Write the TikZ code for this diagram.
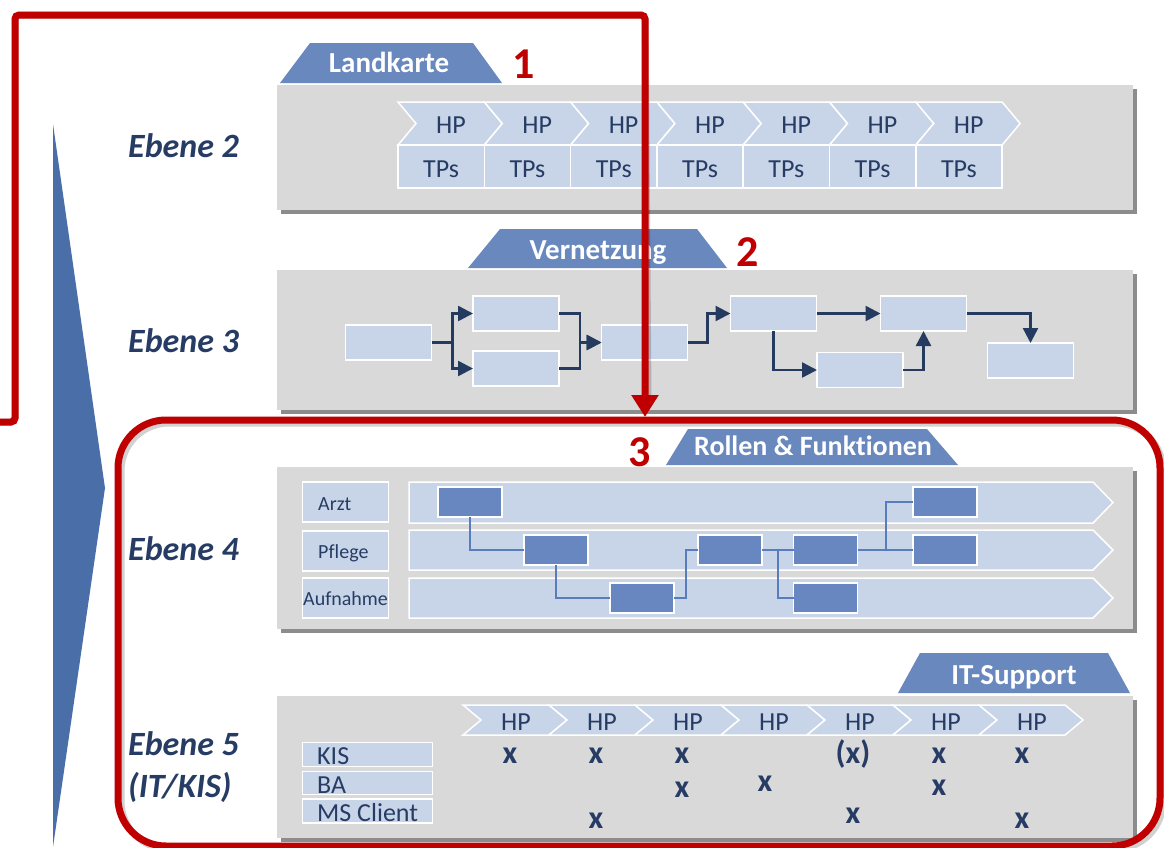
\documentclass[tikz,border=0pt]{standalone}
\usepackage{fontspec}
\setmainfont[Ligatures=NoCommon]{Carlito}
\usetikzlibrary{arrows.meta,calc}
\definecolor{panelg}{RGB}{217,217,217}
\definecolor{shadowg}{RGB}{140,140,140}
\definecolor{lightb}{RGB}{200,213,232}
\definecolor{tabb}{RGB}{104,136,190}
\definecolor{darkb}{RGB}{104,134,191}
\definecolor{navy}{RGB}{36,58,94}
\definecolor{txtnavy}{RGB}{38,60,100}
\definecolor{redc}{RGB}{192,0,0}
\definecolor{trib}{RGB}{74,111,168}
\definecolor{connb}{RGB}{88,124,188}
\begin{document}
\begin{tikzpicture}[x=1pt,y=-1pt,
  ebene/.style={anchor=base west,text=txtnavy,font=\fontsize{34}{38}\selectfont\bfseries\itshape,inner sep=0},
  tabtxt/.style={anchor=base,text=white,font=\fontsize{29}{32}\selectfont\bfseries,inner sep=0},
  rednum/.style={anchor=base,text=redc,font=\fontsize{44}{46}\selectfont\bfseries,inner sep=0},
  hptxt/.style={anchor=base,text=txtnavy,font=\fontsize{26}{28}\selectfont,inner sep=0},
  roletxt/.style={anchor=base west,text=txtnavy,font=\fontsize{20}{22}\selectfont,inner sep=0},
  systxt/.style={anchor=base west,text=txtnavy,font=\fontsize{26}{28}\selectfont,inner sep=0},
  xm/.style={anchor=base,text=txtnavy,font=\fontsize{32}{34}\selectfont\bfseries,inner sep=0},
  lbox/.style={fill=lightb,draw=white,line width=1.5pt,inner sep=0,outer sep=0},
  dbox/.style={fill=darkb,draw=white,line width=1.5pt,inner sep=0,outer sep=0,minimum width=64pt,minimum height=30pt},
  chev/.style={fill=lightb,draw=white,line width=1.5pt},
  tabshape/.style={fill=tabb},
  panel/.style={fill=panelg},
  pshadow/.style={fill=shadowg},
  flow/.style={draw=navy,line width=2.5pt,-{Triangle[length=15pt,width=15pt]}},
  lnk/.style={draw=connb,line width=2pt},
  redl/.style={draw=redc,line width=7pt},
  redsh/.style={draw=black,opacity=.18,line width=7pt}
]
\useasboundingbox (0,0) rectangle (1164,847);
\fill[white] (0,0) rectangle (1164,847);

% blue triangle
\fill[trib] (53,124) -- (105,488) -- (53,847) -- cycle;

% panels
\foreach \yt/\yb in {85/210, 270/410, 467/629, 696/838}{
  \fill[pshadow] (281,\yt+4) rectangle (1137,\yb+4);
  \fill[panel] (277,\yt) rectangle (1133,\yb);
}

% tabs
\fill[tabshape] (280,83) -- (310,43) -- (473,43) -- (502,83) -- cycle;
\fill[tabshape] (468,268) -- (500,229) -- (697,229) -- (727,268) -- cycle;
\fill[tabshape] (666,465) -- (688,429) -- (927,429) -- (958,465) -- cycle;
\fill[tabshape] (898,693) -- (920,653) -- (1108,653) -- (1130,693) -- cycle;
\node[tabtxt] (tland) at (389,72) {Landkarte};
\node[tabtxt] (tvern) at (598,259) {Vernetzung};
\node[tabtxt,font=\fontsize{28}{30}\selectfont\bfseries] (troll) at (813,455) {Rollen \& Funktionen};
\node[tabtxt] (tits) at (1014,684) {IT-Support};

% level labels
\node[ebene] (e2) at (128,157) {Ebene 2};
\node[ebene] (e3) at (128,352) {Ebene 3};
\node[ebene] (e4) at (128,560) {Ebene 4};
\node[ebene] (e5) at (128,755) {Ebene 5};
\node[ebene] (e5b) at (128,797) {(IT/KIS)};

% Ebene 2: HP / TPs
\foreach \i in {0,...,6}{
  \pgfmathsetmacro\xo{398+86.3*\i}
  \path[chev] (\xo,102) -- ++(86.3,0) -- ++(18,21.5) -- ++(-18,21.5) -- ++(-86.3,0) -- ++(18,-21.5) -- cycle;
  \node[hptxt] (hpa\i) at (\xo+53,133) {HP};
}
\foreach \i in {0,...,6}{
  \pgfmathsetmacro\xo{398+86.3*\i}
  \node[lbox,minimum width=86.3pt,minimum height=43pt] (tpc\i) at (\xo+43.15,166.5) {};
  \node[hptxt] (tps\i) at (\xo+43.15,177.5) {TPs};
}

% Ebene 3: network
\begin{scope}[every node/.style={lbox,minimum width=86pt,minimum height=35pt}]
\node (b1) at (388.5,342.5) {};
\node (b2) at (516,313.5) {};
\node (b3) at (516,368.5) {};
\node (b4) at (644.5,342.5) {};
\node (b5) at (773.5,313.5) {};
\node (b6) at (860,370) {};
\node (b7) at (923.5,313.5) {};
\node (b8) at (1030.5,360.5) {};
\end{scope}
\draw[flow] (b1.east) -- ++(21,0) |- (b2.west);
\draw[flow] (b1.east) -- ++(21,0) |- (b3.west);
\draw[flow] (b2.east) -- ++(21,0) |- (b4.west);
\draw[flow] (b3.east) -- ++(21,0) |- (b4.west);
\draw[flow] (b4.east) -- ++(20,0) |- (b5.west);
\draw[flow] (b5.east) -- (b7.west);
\draw[flow] (b5.south) |- (b6.west);
\draw[flow] (b6.east) -| (b7.south);
\draw[flow] (b7.east) -| (b8.north);

% Ebene 4: swimlanes
\node[lbox,minimum width=86pt,minimum height=40pt] (rarzt) at (345.5,502) {};
\node[lbox,minimum width=86pt,minimum height=40pt] (rpfl) at (345.5,551) {};
\node[lbox,minimum width=86pt,minimum height=40pt] (rauf) at (345.5,598) {};
\node[roletxt] (tarzt) at (318,510) {Arzt};
\node[roletxt] (tpfl) at (318,558) {Pflege};
\node[roletxt] (tauf) at (303,605) {Aufnahme};
\foreach \yt/\yb in {482/523, 530/570, 578/618}{
  \path[chev] (409,\yt) -- (1093,\yt) -- (1113,{(\yt+\yb)/2}) -- (1093,\yb) -- (409,\yb) -- cycle;
}
\node[dbox] (a1) at (470,502) {};
\node[dbox] (p1) at (556,550) {};
\node[dbox] (u1) at (642,598) {};
\node[dbox] (p2) at (730,550) {};
\node[dbox] (p3) at (825.5,550) {};
\node[dbox] (u2) at (825.5,598) {};
\node[dbox] (a2) at (945,502) {};
\node[dbox] (p4) at (945,550) {};
\draw[lnk] (a1.south) |- (p1.west);
\draw[lnk] (p1.south) |- (u1.west);
\draw[lnk] (u1.east) -- ++(12,0) |- (p2.west);
\draw[lnk] (p2.east) -- (p3.west);
\draw[lnk] (p2.east) ++(16,0) |- (u2.west);
\draw[lnk] (p3.east) -- (p4.west);
\draw[lnk] (p3.east) ++(28,0) |- (a2.west);

% Ebene 5: IT systems
\foreach \i in {0,...,6}{
  \pgfmathsetmacro\xo{463+86*\i}
  \path[chev] (\xo,705) -- ++(86,0) -- ++(18,15) -- ++(-18,15) -- ++(-86,0) -- ++(18,-15) -- cycle;
  \node[hptxt] (hpb\i) at (\xo+53,730) {HP};
}
\node[lbox,minimum width=130pt,minimum height=24pt] (skis) at (367.5,754.5) {};
\node[lbox,minimum width=130pt,minimum height=23pt] (sba) at (367.5,783) {};
\node[lbox,minimum width=130pt,minimum height=24pt] (sms) at (367.5,811) {};
\node[systxt] (tkis) at (317,764) {KIS};
\node[systxt] (tba) at (317,793) {BA};
\node[systxt] (tms) at (317,821) {MS Client};
\node[xm] (k1) at (510,763) {x};
\node[xm] (k2) at (596,763) {x};
\node[xm] (k3) at (682,763) {x};
\node[xm] (k5) at (853,763) {(x)};
\node[xm] (k6) at (939,763) {x};
\node[xm] (k7) at (1022,763) {x};
\node[xm] (ba3) at (682,797) {x};
\node[xm] (ba4) at (765,791) {x};
\node[xm] (ba6) at (939,795) {x};
\node[xm] (ms2) at (596,828) {x};
\node[xm] (ms5) at (853,823) {x};
\node[xm] (ms7) at (1022,828) {x};

% red markings
\coordinate (rs) at (0,422);
\coordinate (rc1) at (15,422);
\coordinate (rc2) at (15,15);
\coordinate (rc3) at (645,15);
\coordinate (re) at (645,417);
\draw[redsh,rounded corners=4pt,shift={(3,3)}] (rs) -- (rc1) -- (rc2) -- (rc3) -- (645,395);
\draw[redsh,rounded corners=48pt,shift={(3,3)}] (118,420) rectangle (1160,846);
\draw[redl,rounded corners=4pt,-{Triangle[length=22pt,width=26pt]}] (rs) -- (rc1) -- (rc2) -- (rc3) -- (re);
\draw[redl,rounded corners=48pt] (118,420) rectangle (1160,846);

\node[rednum] (n1) at (524,78) {1};
\node[rednum] (n2) at (748,266) {2};
\node[rednum] (n3) at (640,466) {3};
\end{tikzpicture}
\end{document}
